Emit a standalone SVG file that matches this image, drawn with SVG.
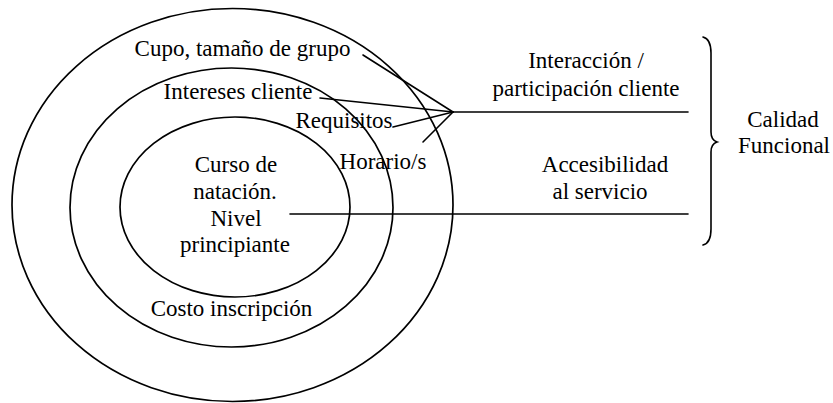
<svg xmlns="http://www.w3.org/2000/svg" width="833" height="403" viewBox="0 0 833 403">
<style>
.ring{fill:none;stroke:#000;stroke-width:1.7}
.ln{fill:none;stroke:#000;stroke-width:1.6;stroke-linecap:round}
</style>
<rect width="833" height="403" fill="#fff"/>
<g id="rings">
<ellipse id="outer" class="ring" cx="232.5" cy="205" rx="220.5" ry="196.5"/>
<ellipse id="middle" class="ring" cx="231.5" cy="207.5" rx="161.5" ry="139.5"/>
<ellipse id="inner" class="ring" cx="235" cy="207" rx="115" ry="90"/>
</g>
<g id="connectors">
<line class="ln" x1="363" y1="55" x2="453" y2="112"/>
<line class="ln" x1="320" y1="98" x2="453" y2="112"/>
<line class="ln" x1="393" y1="127" x2="453" y2="112"/>
<line class="ln" x1="423" y1="142" x2="453" y2="112"/>
<line class="ln" x1="453" y1="112" x2="688" y2="112"/>
<line class="ln" x1="290" y1="214" x2="688" y2="214"/>
</g>
<g id="brace">
<path class="ln" d="M703,37 Q711,39 711,53 L711,132 Q711,140 717,142 Q711,144 711,152 L711,229 Q711,243 703,245"/>
</g>
<g font-family="Liberation Serif, Times New Roman, serif" font-size="23" text-anchor="middle" fill="#000">
<g id="cupo"><text x="242.5" y="56">Cupo, tamaño de grupo</text></g>
<g id="intereses"><text x="238" y="99">Intereses cliente</text></g>
<g id="requisitos"><text x="344" y="128">Requisitos</text></g>
<g id="horario"><text x="383" y="169">Horario/s</text></g>
<g id="curso">
<text x="236" y="172">Curso de</text>
<text x="235" y="199">natación.</text>
<text x="236" y="226">Nivel</text>
<text x="235" y="252">principiante</text>
</g>
<g id="costo"><text x="231.5" y="316">Costo inscripción</text></g>
<g id="interaccion">
<text x="586" y="68">Interacción /</text>
<text x="586" y="96">participación cliente</text>
</g>
<g id="accesibilidad">
<text x="605" y="172">Accesibilidad</text>
<text x="600" y="199">al servicio</text>
</g>
<g id="calidad">
<text x="783" y="127">Calidad</text>
<text x="784" y="153">Funcional</text>
</g>
</g>
</svg>
